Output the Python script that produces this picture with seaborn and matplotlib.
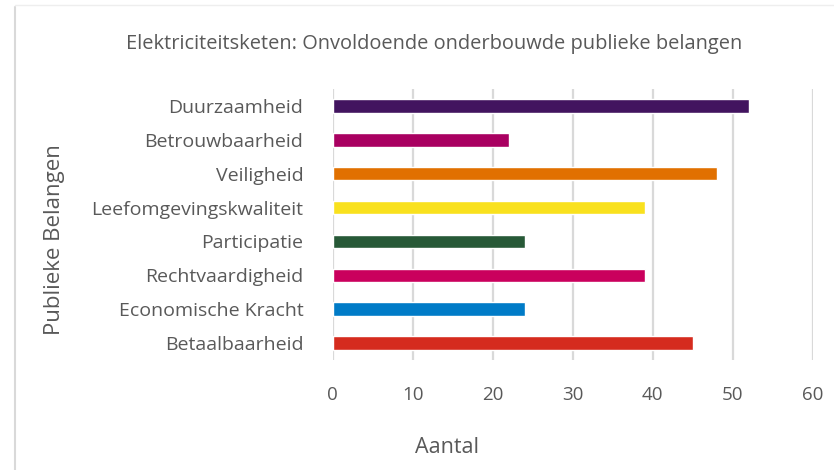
"""Horizontal bar chart of public interests in the electricity chain."""
import matplotlib

matplotlib.use("Agg")
import matplotlib.pyplot as plt
import pandas as pd
import seaborn as sns
from matplotlib.lines import Line2D

categories = [
    "Duurzaamheid",
    "Betrouwbaarheid",
    "Veiligheid",
    "Leefomgevingskwaliteit",
    "Participatie",
    "Rechtvaardigheid",
    "Economische Kracht",
    "Betaalbaarheid",
]
counts = [52, 22, 48, 39, 24, 39, 24, 45]
colors = [
    "#42145F",
    "#A90061",
    "#E17000",
    "#F9E11E",
    "#275937",
    "#CA005D",
    "#007BC7",
    "#D52B1E",
]
x_ticks = [0, 10, 20, 30, 40, 50, 60]

text_color = "#595959"
grid_color = "#D9D9D9"

sns.set_style("white")
plt.rcParams["font.family"] = ["Open Sans", "DejaVu Sans"]

df = pd.DataFrame({"belang": categories, "aantal": counts})

fig = plt.figure(figsize=(8.34, 4.70), dpi=100)
ax = fig.add_axes([0.3987, 0.234, 0.5758, 0.5766])

sns.barplot(
    data=df,
    x="aantal",
    y="belang",
    hue="belang",
    palette=colors,
    order=categories,
    hue_order=categories,
    orient="h",
    width=0.4,
    saturation=1,
    legend=False,
    ax=ax,
    zorder=3,
)

ax.set_xlim(0, 60)
ax.set_xticks(x_ticks)
ax.set_xticklabels([str(t) for t in x_ticks])
ax.grid(axis="x", color=grid_color, linewidth=1.6, zorder=0)
ax.grid(axis="y", visible=False)
ax.set_axisbelow(True)
sns.despine(ax=ax, left=True, bottom=True)

ax.tick_params(axis="x", length=0, pad=19, labelsize=13.5, labelcolor=text_color)
ax.tick_params(axis="y", length=0, pad=21, labelsize=14, labelcolor=text_color)

ax.set_xlabel("Aantal", fontsize=15.5, color=text_color)
ax.set_ylabel("Publieke Belangen", fontsize=16, color=text_color)
ax.xaxis.set_label_coords(0.238, -0.285)
ax.yaxis.set_label_coords(-0.557, 0.443)

fig.text(
    0.52,
    0.906,
    "Elektriciteitsketen: Onvoldoende onderbouwde publieke belangen",
    ha="center",
    va="center",
    fontsize=14.4,
    color=text_color,
)

# chart area border (left edge and faint top edge)
fig.add_artist(Line2D([0.0185, 0.0185], [0.0, 0.985], color=grid_color, linewidth=1.5))
fig.add_artist(Line2D([0.0185, 1.0], [0.99, 0.99], color="#EEEEEE", linewidth=1.0))

fig.savefig("out.png", dpi=100)
